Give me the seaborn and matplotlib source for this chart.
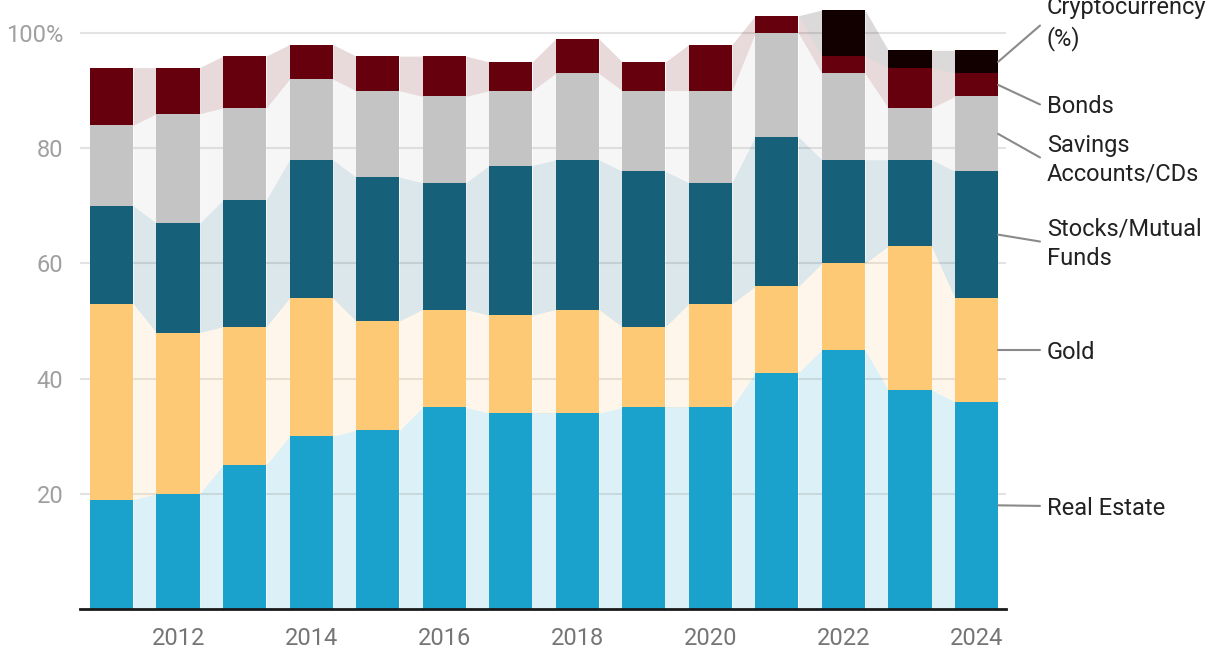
import numpy as np
import matplotlib
matplotlib.use("Agg")
import matplotlib.pyplot as plt
import seaborn as sns

years = [2011, 2012, 2013, 2014, 2015, 2016, 2017, 2018, 2019, 2020, 2021, 2022, 2023, 2024]
real_estate = [19, 20, 25, 30, 31, 35, 34, 34, 35, 35, 41, 45, 38, 36]
gold = [34, 28, 24, 24, 19, 17, 17, 18, 14, 18, 15, 15, 25, 18]
stocks = [17, 19, 22, 24, 25, 22, 26, 26, 27, 21, 26, 18, 15, 22]
savings = [14, 19, 16, 14, 15, 15, 13, 15, 14, 16, 18, 15, 9, 13]
bonds = [10, 8, 9, 6, 6, 7, 5, 6, 5, 8, 3, 3, 7, 4]
crypto = [0, 0, 0, 0, 0, 0, 0, 0, 0, 0, 0, 8, 3, 4]

series_names = ["Real Estate", "Gold", "Stocks/Mutual\nFunds", "Savings\nAccounts/CDs", "Bonds", "Cryptocurrency\n(%)"]
series_values = [real_estate, gold, stocks, savings, bonds, crypto]
colors = ["#1aa1cc", "#fdc975", "#16607a", "#c4c4c4", "#67000d", "#120000"]
y_ticks = [20, 40, 60, 80, 100]
y_tick_labels = ["20", "40", "60", "80", "100%"]

sns.set_theme(style="white")
plt.rcParams["font.family"] = ["Roboto", "DejaVu Sans"]

fig = plt.figure(figsize=(12.2, 6.66), dpi=100)
ax = fig.add_axes([80 / 1220, 1 - 609 / 666, (1006 - 80) / 1220, (609 - 10) / 666])

vals = np.array(series_values, dtype=float)
tops = np.cumsum(vals, axis=0)
bots = tops - vals
n = len(years)
w = 0.65
xlabels = [str(y) for y in years]

# bars: draw cumulative tops from the top layer down
for k in range(len(series_names) - 1, -1, -1):
    sns.barplot(x=xlabels, y=tops[k], order=xlabels, color=colors[k], width=w,
                saturation=1, errorbar=None, ax=ax, zorder=3, linewidth=0)

# connecting translucent bands
for k in range(len(series_names)):
    for i in range(n - 1):
        xs = [i + w / 2, i + 1 - w / 2]
        ax.fill_between(xs, [bots[k][i], bots[k][i + 1]], [tops[k][i], tops[k][i + 1]],
                        color=colors[k], alpha=0.15, lw=0, zorder=2)

# grid
for yv in y_ticks:
    ax.axhline(yv, color="#e3e3e3", lw=1.5, zorder=1)

ax.set_xlim(-0.474, 13.444)
ax.set_ylim(0, 104)
for s in ["left", "right", "top"]:
    ax.spines[s].set_visible(False)
ax.spines["bottom"].set_color("#1a1a1a")
ax.spines["bottom"].set_linewidth(2)
ax.spines["bottom"].set_zorder(5)

xt = [i for i in range(n) if years[i] % 2 == 0]
ax.set_xticks(xt)
ax.set_xticklabels([str(years[i]) for i in xt], fontsize=17, color="#757575")
ax.set_yticks(y_ticks)
ax.set_yticklabels(y_tick_labels, fontsize=17, color="#a0a0a0")
ax.tick_params(axis="both", length=0)
ax.tick_params(axis="x", pad=13)
ax.tick_params(axis="y", pad=12)
ax.set_xlabel("")
ax.set_ylabel("")

# right-hand labels with leader lines
label_y = [17.5, 44.6, 63.4, 78.0, 87.2, 101.6]
line_end = [17.9, 45.0, 63.8, 78.4, 87.6, 101.3]
last = n - 1
for k, name in enumerate(series_names):
    mid = (bots[k][last] + tops[k][last]) / 2
    ax.plot([last + w / 2, 13.955], [mid, line_end[k]], color="#8a8a8a", lw=1.5,
            clip_on=False, zorder=4)
    ax.text(14.06, label_y[k], name, fontsize=17, color="#222222", va="center",
            ha="left", linespacing=1.35, clip_on=False)

fig.savefig("out.png", dpi=100)
